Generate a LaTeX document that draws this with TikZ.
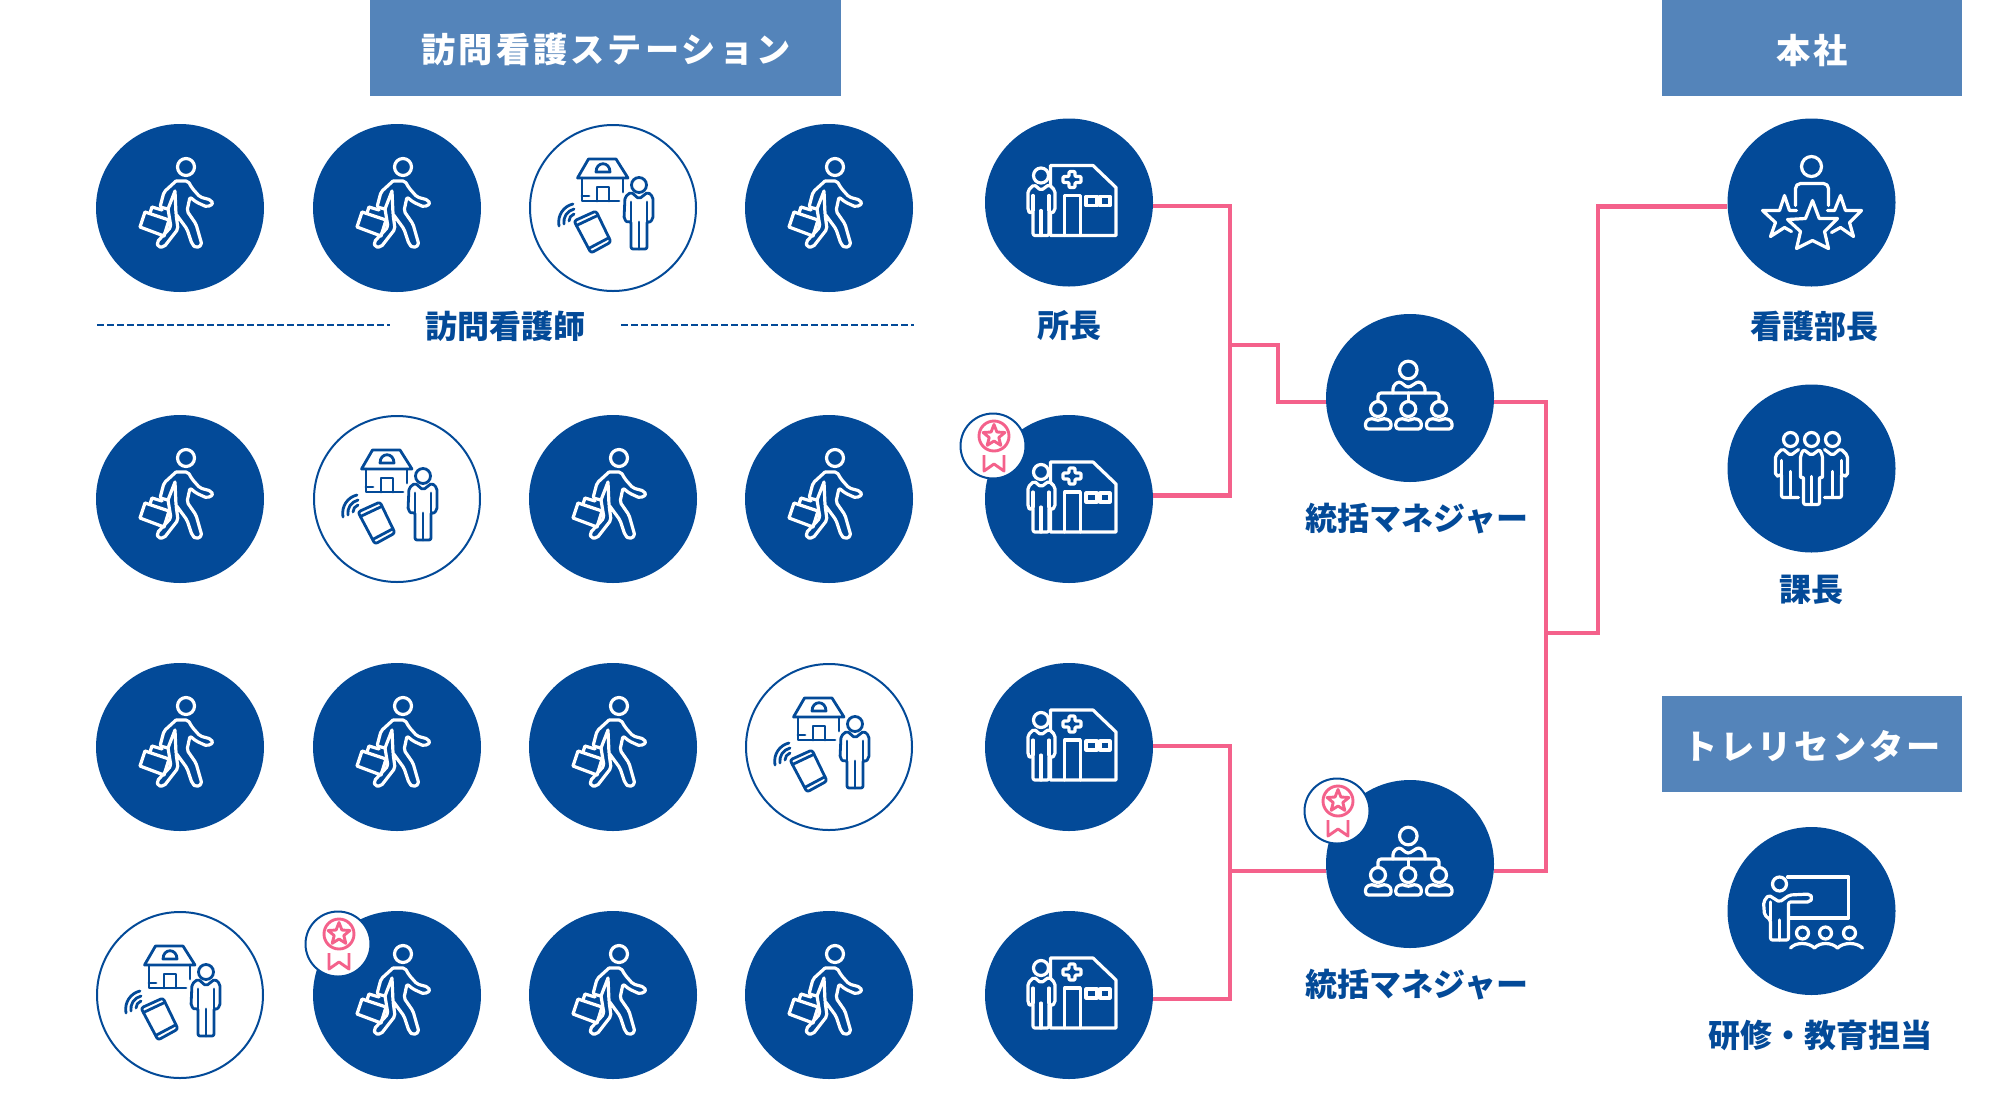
\documentclass[tikz,border=0pt]{standalone}
\usepackage{fontspec}
\usetikzlibrary{calc}
\setmainfont{Noto Sans CJK JP}
\newfontfamily\jphead{Noto Sans CJK JP}[LetterSpace=9]
\definecolor{navy}{HTML}{034A98}
\definecolor{pinkline}{HTML}{F4618B}
\definecolor{headblue}{HTML}{5484BA}
\tikzset{
  dotfill/.style={circle,fill=navy,draw=none,minimum size=168pt,inner sep=0pt},
  dotopen/.style={circle,fill=white,draw=navy,line width=2pt,minimum size=166pt,inner sep=0pt},
  badgedot/.style={circle,fill=white,draw=navy,line width=2pt,minimum size=65pt,inner sep=0pt},
  wl/.style={draw=white,line width=3.2pt,line join=round,line cap=round},
  nl/.style={draw=navy,line width=2.8pt,line join=round,line cap=round},
  pl/.style={draw=pinkline,line width=2.9pt,line join=round},
  conn/.style={draw=pinkline,line width=4.2pt,line join=miter},
  dashline/.style={draw=navy,line width=1.6pt,dash pattern=on 7pt off 3pt},
  headbox/.style={fill=headblue,draw=none,inner sep=0pt,text=white},
  headtext/.style={text=white,inner sep=0pt,font=\jphead\bfseries\fontsize{34.2}{34.2}\selectfont},
  rolelabel/.style={text=navy,inner sep=0pt,font=\bfseries\fontsize{32}{32}\selectfont},
  walkerfig/.pic={
    \draw[wl] (6,-41) circle[radius=8.5pt];
    \draw[wl,rounded corners=2pt] (-4,-27) -- (8,-27) -- (12,-20) -- (20,-11) -- (31,-8) -- (33,-4) -- (27,-1) -- (16,-6) -- (10,-11) -- (7,3) -- (16,16) -- (22,37) -- (16,40) -- (12,36) -- (7,21) -- (-4,6) -- (-2,21) -- (-16,39) -- (-22,39) -- (-23,34) -- (-9,19) -- (-12,1);
    \draw[wl,rounded corners=2pt] (-4,-27) -- (-16,-16) -- (-20,-1) -- (-12,1);
    \draw[wl] (-5,-17) -- (-12,1) (-5,-17) -- (-4,6);
    \draw[wl] (-35,4) -- (-40,19) -- (-16,28) -- (-11,12) -- cycle;
    \draw[wl] (-30,5) -- (-28,-1) -- (-18,2);
  },
  personnavy/.pic={
    \draw[nl] (26,-23) circle[radius=7.5pt];
    \draw[nl,rounded corners=2pt] (12,-11) -- (18,-16) -- (26,-9) -- (35,-16) -- (40,-11) -- (40,11) -- (36,15) -- (34,13) -- (34,41) -- (18,41) -- (18,13) -- (15,15) -- (11,11) -- cycle;
    \draw[nl] (18,-6) -- (18,13) (34,-6) -- (34,13) (26,14) -- (26,41);
  },
  homefig/.pic={
    \draw[nl] (-35.5,-30) -- (-24.5,-49) -- (3,-49) -- (15,-30) -- cycle;
    \draw[nl] (-31,-30) -- (-31,-7) -- (6,-7) (10,-30) -- (10,-16);
    \draw[nl] (-16,-7) -- (-16,-21) -- (-4,-21) -- (-4,-7);
    \draw[nl] (-31,-12) -- (-24,-12);
    \draw[nl] (-17,-36) .. controls (-17,-47) and (-3,-47) .. (-3,-36) -- cycle;
    \pic {personnavy};
    \draw[nl,rounded corners=2.5pt] (-39,13) -- (-17,3) -- (-2,34) -- (-22,45) -- cycle;
    \draw[nl] (-36.6,17.5) -- (-15,7.3) (-24.4,40.5) -- (-4,29.7);
    \draw[nl] (-54,18) .. controls (-56,7) and (-49,-2) .. (-40,-4);
    \draw[nl] (-49,16) .. controls (-50,9) and (-46,3) .. (-39,1);
    \draw[nl] (-44,13) .. controls (-44,10) and (-42,7) .. (-39,6);
  },
  hospfig/.pic={
    \draw[wl] (-18.5,-37) -- (24,-37) -- (47,-15) -- (47,33) -- (-18.5,33) -- cycle;
    \draw[wl] (-4.3,33) -- (-4.3,-7) -- (11.4,-7) -- (11.4,33);
    \draw[wl] (17,-6) rectangle (28,3) (31,-6) rectangle (41,3);
    \draw[wl,rounded corners=1pt] (0,-31) -- (6,-31) -- (6,-26) -- (12,-26) -- (12,-20) -- (6,-20) -- (6,-15) -- (0,-15) -- (0,-20) -- (-6,-20) -- (-6,-26) -- (0,-26) -- cycle;
    \draw[fill=navy,wl] (-28,-27) circle[radius=7.5pt];
    \draw[wl,fill=navy,rounded corners=2pt] (-41,-12) -- (-35,-18) -- (-28,-12) -- (-20,-18) -- (-14,-12) -- (-14,8) -- (-17.5,11) -- (-20,8) -- (-20,33) -- (-36,33) -- (-36,8) -- (-39,11) -- (-41,8) -- cycle;
    \draw[wl] (-36,-7) -- (-36,8) (-20,-7) -- (-20,8) (-28,8) -- (-28,33);
  },
  minibody/.pic={
    \draw[wl] (0,11) circle[radius=7.5pt];
    \draw[wl,rounded corners=3pt] (-12.5,31) -- (-12.5,23) -- (-6,20) -- (0,23) -- (6,20) -- (13,23) -- (13,31) -- cycle;
  },
  managerfig/.pic={
    \draw[wl] (-1.7,-28) circle[radius=8.8pt];
    \draw[wl,rounded corners=3pt] (-17,-5) -- (-17,-12) -- (-11,-17) -- (-2,-10) -- (9,-17) -- (15,-12) -- (15,-5);
    \draw[wl,rounded corners=3pt] (-32,3) -- (-32,-5) -- (29,-5) -- (29,3);
    \draw[wl] (-1.5,-5) -- (-1.5,3);
    \pic at (-32,0) {minibody};
    \pic at (-1.7,0) {minibody};
    \pic at (29,0) {minibody};
  },
  starsfig/.pic={
    \draw[wl] (0,-36) circle[radius=10pt];
    \draw[wl,rounded corners=5pt] (-16,3) -- (-16,-19) -- (17,-19) -- (17,3);
    \draw[wl] (1,-2) -- (7.7,16) -- (26,16) -- (13,29) -- (17,46) -- (1,38) -- (-15,46) -- (-11,29) -- (-24,17) -- (-6,16) -- cycle;
    \draw[wl] (-15,8) -- (-22,8) -- (-27,-7) -- (-32,8) -- (-49,8) -- (-36,20) -- (-41,34) -- (-27,25) -- (-20,29);
    \draw[wl] (16,8) -- (23,8) -- (29,-7) -- (34,8) -- (50,8) -- (38,20) -- (42,34) -- (29,25) -- (20,30);
  },
  teamfig/.pic={
    \draw[wl] (0,-29) circle[radius=7pt] (-21,-29) circle[radius=7pt] (21,-29) circle[radius=7pt];
    \draw[wl,rounded corners=2pt] (-13,-19) -- (-21,-13) -- (-29,-20) -- (-36,-13) -- (-36,7) -- (-32,8) -- (-30,5) -- (-30,29) -- (-13,29);
    \draw[wl,rounded corners=2pt] (13,-19) -- (21,-13) -- (29,-20) -- (36,-13) -- (36,7) -- (32,8) -- (30,5) -- (30,29) -- (13,29);
    \draw[wl,rounded corners=2pt] (-11,10) -- (-11,-13) -- (-8,-19) -- (0,-13) -- (8,-19) -- (11,-13) -- (11,10) -- (8,8) -- (8,36) -- (-8,36) -- (-8,8) -- cycle;
    \draw[wl] (-30,-8) -- (-30,5) (30,-8) -- (30,5) (-21,3) -- (-21,29) (21,3) -- (21,29) (0,8) -- (0,36);
  },
  teachfig/.pic={
    \draw[wl] (-24,-34) -- (37,-34) -- (37,7) -- (-22,7);
    \draw[wl] (-32,-27) circle[radius=7pt];
    \draw[wl,rounded corners=2pt] (-48,-9) -- (-43,-16) -- (-32,-9) -- (-22,-16) -- (-2,-17) -- (1,-13) -- (-2,-9) -- (-23,-9) -- (-23,29) -- (-41,29) -- (-41,9) -- (-47,4) -- cycle;
    \draw[wl] (-32,9) -- (-32,29) (-41,-9) -- (-41,9);
    \draw[wl] (-9,22) circle[radius=6pt] (14,22) circle[radius=6pt] (38,22) circle[radius=6pt];
    \draw[wl] (-21,37) .. controls (-16,31) and (-3,31) .. (3,37) .. controls (8,31) and (20,31) .. (26,37) .. controls (32,31) and (45,31) .. (51,37);
  },
  medalfig/.pic={
    \draw[pl] (1,-10) circle[radius=15pt];
    \draw[pl] (1,-21.5) -- (3.9,-14) -- (11.9,-13.5) -- (5.8,-8.5) -- (7.8,-0.7) -- (1,-5) -- (-5.8,-0.7) -- (-3.8,-8.5) -- (-9.9,-13.5) -- (-1.9,-14) -- cycle;
    \draw[pl] (-9,9) -- (-9,25) -- (1,18) -- (11,25) -- (11,9);
  }
}
\newcommand\walk[3]{\node[dotfill] (#1) at (#2,#3) {}; \pic at (#1) {walkerfig};}
\newcommand\home[3]{\node[dotopen] (#1) at (#2,#3) {}; \pic at (#1) {homefig};}
\newcommand\hosp[3]{\node[dotfill] (#1) at (#2,#3) {}; \pic at (#1) {hospfig};}
\newcommand\award[3]{\node[badgedot] (#1) at (#2,#3) {}; \pic at (#1) {medalfig};}
\begin{document}
\begin{tikzpicture}[x=1pt,y=-1pt]
\useasboundingbox (0,0) rectangle (2000,1104);
% header boxes
\path[headbox] (370,0) rectangle (840.5,96);
\path[headbox] (1661.5,0) rectangle (1961.5,96);
\path[headbox] (1661.5,696) rectangle (1961.5,792);
\node[headtext] (hstation) at (606,50) {訪問看護ステーション};
\node[headtext] (hhq) at (1812,51) {本社};
\node[headtext] (htre) at (1812,746) {トレリセンター};
% row 1
\walk{a1}{180}{208}\walk{a2}{397}{208}\home{a3}{613}{208}\walk{a4}{829}{208}
% row 2
\walk{b1}{180}{499}\home{b2}{397}{499}\walk{b3}{613}{499}\walk{b4}{829}{499}
% row 3
\walk{c1}{180}{747}\walk{c2}{397}{747}\walk{c3}{613}{747}\home{c4}{829}{747}
% row 4
\home{d1}{180}{995}\walk{d2}{397}{995}\walk{d3}{613}{995}\walk{d4}{829}{995}
% heads of station
\hosp{s1}{1069}{202.5}\hosp{s2}{1069}{499}\hosp{s3}{1069}{747}\hosp{s4}{1069}{995}
% managers
\node[dotfill] (m1) at (1410,398) {}; \pic at (m1) {managerfig};
\node[dotfill] (m2) at (1410,864) {}; \pic at (m2) {managerfig};
% right column
\node[dotfill] (r1) at (1811.5,202.5) {}; \pic at (r1) {starsfig};
\node[dotfill] (r2) at (1811.5,468.5) {}; \pic at (r2) {teamfig};
\node[dotfill] (r3) at (1811.5,911) {}; \pic at (r3) {teachfig};
% badges
\award{ba}{993}{446}
\award{bb}{338}{944}
\award{bc}{1337}{811}
% labels
\node[rolelabel] (lnurse) at (505,326) {訪問看護師};
\node[rolelabel] (lchief) at (1069,326) {所長};
\node[rolelabel] (lm1) at (1417,519) {統括マネジャー};
\node[rolelabel] (lm2) at (1417,985) {統括マネジャー};
\node[rolelabel] (lr1) at (1814,326) {看護部長};
\node[rolelabel] (lr2) at (1811,590) {課長};
\node[rolelabel] (lr3) at (1820,1035) {研修・教育担当};
% dashed rules
\coordinate (da) at (97,325); \coordinate (db) at (390,325);
\coordinate (dc) at (621,325); \coordinate (dd) at (914,325);
\draw[dashline] (da) -- (db);
\draw[dashline] (dc) -- (dd);
% connectors
\coordinate (j1) at (1230,345);
\coordinate (j2) at (1230,871);
\coordinate (j3) at (1546,633);
\draw[conn] ($(s1.east)+(0,3.5)$) -| (j1) |- ($(s2.east)+(0,-3.5)$);
\draw[conn] (j1) -- (1278,345) |- ($(m1.west)+(0,4)$);
\draw[conn] ($(s3.east)+(0,-1)$) -| (j2) |- ($(s4.east)+(0,4)$);
\draw[conn] (j2) -- ($(m2.west)+(0,7)$);
\draw[conn] ($(m1.east)+(0,4)$) -| (j3) |- ($(m2.east)+(0,7)$);
\draw[conn] (j3) -- (1598,633) |- ($(r1.west)+(0,4)$);
\end{tikzpicture}
\end{document}
